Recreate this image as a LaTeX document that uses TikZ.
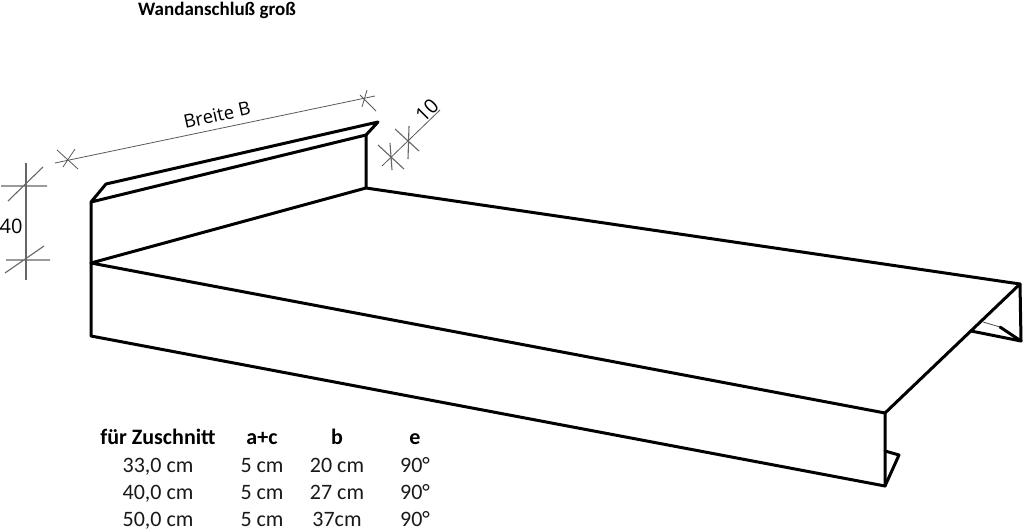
\documentclass[tikz,border=0pt]{standalone}
\usepackage{fontspec}
\setmainfont{Carlito}
\newfontfamily\labelfont{Open Sans}
\tikzset{
  sheet/.style={draw=black,line width=3pt,line cap=round,line join=round},
  thinsheet/.style={draw=black!70,line width=0.8pt},
  dimline/.style={draw=black!60,line width=1.1pt},
  dimthin/.style={draw=black!65,line width=0.8pt},
  cell/.style={inner sep=0pt,anchor=base,font=\fontsize{22}{24}\selectfont,text=black!90},
  headcell/.style={inner sep=0pt,anchor=base,font=\fontsize{22}{24}\selectfont\bfseries},
  titlecell/.style={inner sep=0pt,anchor=base,font=\fontsize{19}{22}\selectfont\bfseries},
  dimtext/.style={inner sep=0pt,font=\labelfont\fontsize{18.5}{20}\selectfont,text=black},
  dimnum/.style={inner sep=0pt,font=\labelfont\fontsize{20}{22}\selectfont,text=black}
}
\begin{document}
\begin{tikzpicture}[x=1pt,y=-1pt]
\useasboundingbox (0,0) rectangle (1024,530);
% sheet corners
\coordinate (wallTL) at (91,202);
\coordinate (foldL) at (106,184);
\coordinate (foldR) at (378,122);
\coordinate (wallTR) at (366,135);
\coordinate (wallBR) at (366,188);
\coordinate (wallBL) at (91,263);
\coordinate (frontBL) at (91,336);
\coordinate (frontTR) at (885,413);
\coordinate (frontBR) at (885,486);
\coordinate (backR) at (1020,284);
\coordinate (backRB) at (1021,341);
\coordinate (hookA) at (885,451);
\coordinate (hookB) at (899,455);
\coordinate (rearA) at (971,331);
\coordinate (rearB) at (1000,327);
\coordinate (rearC) at (983,322);
% main outline
\draw[sheet] (wallBL) -- (wallTL) -- (foldL) -- (foldR) -- (wallTR) -- (wallTL);
\draw[sheet] (wallTR) -- (wallBR) -- (wallBL) -- (frontTR) -- (backR) -- (wallBR);
\draw[sheet] (wallBL) -- (frontBL) -- (frontBR) -- (frontTR);
\draw[sheet] (hookA) -- (hookB) -- (frontBR);
\draw[sheet] (backR) -- (backRB) -- (rearA);
\draw[sheet] (backRB) -- (rearB);
\draw[thinsheet] (rearB) -- (rearC);
% width dimension
\coordinate (bA) at (55,163);
\coordinate (bB) at (375,96);
\draw[dimthin] (bA) -- (bB);
\draw[dimthin] (57,150) -- (78,169) (75,149) -- (63,167);
\draw[dimthin] (360,95) -- (376,111) (367,90) -- (362,107);
% height dimension
\coordinate (hA) at (26,163);
\coordinate (hB) at (26,280);
\draw[dimline] (hA) -- (hB);
\draw[dimline] (1,186) -- (47,186) (43,167) -- (8,201);
\draw[dimline] (6,260) -- (50,260) (44,246) -- (5,273);
% fold dimension
\coordinate (fA) at (382,166);
\coordinate (fB) at (440,110);
\draw[dimthin] (fA) -- (fB);
\draw[dimline] (390,143) -- (392,170) (378,145) -- (404,169);
\draw[dimline] (409,126) -- (408,159) (395,129) -- (419,151);
% labels
\node[dimtext,rotate=12.5] (breite) at (217,115) {Breite B};
\node[dimnum,rotate=45] (ten) at (427,110) {10};
\node[dimnum] (forty) at (11,226) {40};
\node[titlecell] (title) at (217,15) {Wandanschluß groß};
% table
\node[headcell] (h1) at (158,444) {für Zuschnitt};
\node[headcell] (h2) at (262,444) {a+c};
\node[headcell] (h3) at (337,444) {b};
\node[headcell] (h4) at (415,444) {e};
\node[cell] (a1) at (158,472) {33,0 cm};
\node[cell] (a2) at (262,472) {5 cm};
\node[cell] (a3) at (337,472) {20 cm};
\node[cell] (a4) at (415,472) {90°};
\node[cell] (b1) at (158,499) {40,0 cm};
\node[cell] (b2) at (262,499) {5 cm};
\node[cell] (b3) at (337,499) {27 cm};
\node[cell] (b4) at (415,499) {90°};
\node[cell] (c1) at (158,526) {50,0 cm};
\node[cell] (c2) at (262,526) {5 cm};
\node[cell] (c3) at (337,526) {37cm};
\node[cell] (c4) at (415,526) {90°};
\end{tikzpicture}
\end{document}
